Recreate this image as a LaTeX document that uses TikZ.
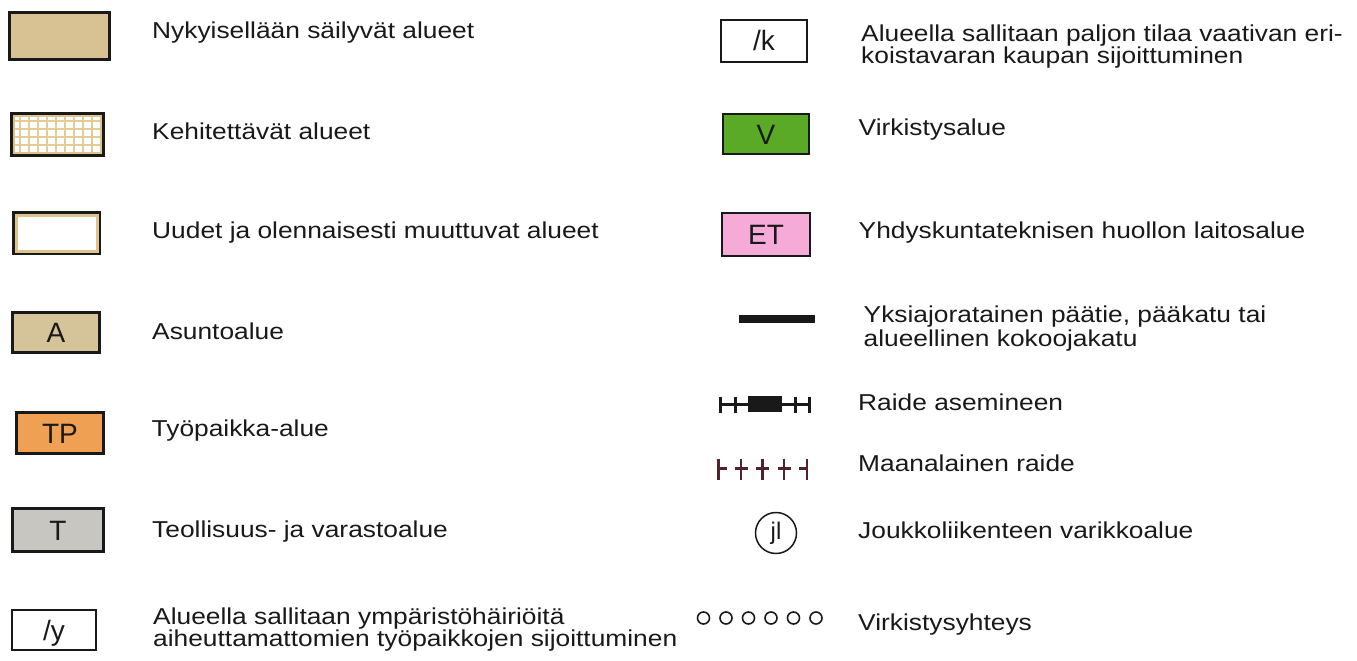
\documentclass[tikz,border=0pt]{standalone}
\usepackage{fontspec}
\setmainfont[FakeStretch=1.145]{Liberation Sans}
\newfontfamily\lblfont{Liberation Sans}
\definecolor{tanA}{RGB}{216,193,146}
\definecolor{tanB}{RGB}{213,196,153}
\definecolor{tanGrid}{RGB}{228,204,150}
\definecolor{tanEdge}{RGB}{222,196,140}
\definecolor{tpOrange}{RGB}{240,160,82}
\definecolor{tGrey}{RGB}{200,198,192}
\definecolor{vGreen}{RGB}{90,170,40}
\definecolor{etPink}{RGB}{246,170,216}
\definecolor{maroon}{RGB}{80,35,45}
\definecolor{ink}{RGB}{25,25,25}
\tikzset{
  txt/.style={anchor=base west, inner sep=0pt, text=ink, font=\fontsize{23}{21}\selectfont},
  box/.style={draw=ink, line width=3pt, inner sep=0pt, text=ink,
    font=\lblfont\fontsize{28}{28}\selectfont, text height=20pt, text depth=0pt},
  thinbox/.style={box, line width=2.2pt},
  railline/.style={ink, line width=3pt},
  metroline/.style={maroon, line width=2.6pt},
}
\begin{document}
\begin{tikzpicture}[x=1pt,y=-1pt]
\useasboundingbox (0,0) rectangle (1357,661);
% ---- left column symbols
\node[box, fill=tanA, minimum width=100pt, minimum height=47pt] (b1) at (59.5,36) {};
\node[box, fill=white, minimum width=92pt, minimum height=42pt] (b2) at (57.5,134.5) {};
\begin{scope}
  \clip (13,115) rectangle (102,154);
  \foreach \gx in {20,29,...,101} \draw[tanGrid, line width=1.1pt] (\gx,115) -- (\gx,154);
  \foreach \gy in {121,129,...,154} \draw[tanGrid, line width=1.1pt] (13,\gy) -- (102,\gy);
\end{scope}
\draw[tanEdge, line width=2pt] (14,116) rectangle (101,153);
\node[box, fill=white, minimum width=86pt, minimum height=41pt] (b3) at (56.5,233) {};
\draw[tanEdge, line width=3pt] (16,215) rectangle (97,251);
\node[box, fill=tanB, minimum width=87pt, minimum height=40pt] (bA) at (56,332.5) {A};
\node[box, fill=tpOrange, minimum width=87pt, minimum height=41pt] (bTP) at (60,433) {TP};
\node[box, fill=tGrey, minimum width=91pt, minimum height=43pt] (bT) at (58,530) {T};
\node[thinbox, fill=white, minimum width=83.8pt, minimum height=39.8pt] (by) at (54,630) {/y};
% ---- left column texts
\node[txt] (t1) at (152,39) {Nykyisellään säilyvät alueet};
\node[txt] (t2) at (152,139) {Kehitettävät alueet};
\node[txt] (t3) at (152,238) {Uudet ja olennaisesti muuttuvat alueet};
\node[txt] (t4) at (152,339) {Asuntoalue};
\node[txt] (t5) at (151.5,436) {Työpaikka-alue};
\node[txt] (t6) at (152,537) {Teollisuus- ja varastoalue};
\node[txt] (t7) at (153,624) {\vtop{\baselineskip=21pt\hbox{Alueella sallitaan ympäristöhäiriöitä}\hbox{aiheuttamattomien työpaikkojen sijoittuminen}}};
% ---- right column symbols
\node[thinbox, fill=white, minimum width=85.8pt, minimum height=41.8pt] (bk) at (764,41) {/k};
\node[thinbox, fill=vGreen, minimum width=85.8pt, minimum height=39.8pt] (bV) at (766,134) {V};
\node[thinbox, fill=etPink, minimum width=87.8pt, minimum height=42.8pt] (bET) at (766,234.5) {ET};
\coordinate (road1) at (739,319);
\coordinate (road2) at (815,319);
\draw[ink, line width=8pt] (road1) -- (road2);
% rail with station
\coordinate (r1) at (719,404);
\coordinate (r2) at (810,404);
\draw[railline] (r1) -- (r2);
\foreach \rx in {720,735,795,809.5} \draw[railline] (\rx,396.5) -- (\rx,412.5);
\fill[ink] (748,396) rectangle (782,412);
% underground rail
\foreach \mx in {741,762.5,784} {
  \draw[metroline] (\mx,458.5) -- (\mx,480);
  \draw[metroline] (\mx-6.5,468.5) -- (\mx+6.5,468.5);
}
\draw[metroline] (718.5,458.5) -- (718.5,480);
\draw[metroline] (718.5,468.5) -- (727,468.5);
\draw[metroline] (807,458.5) -- (807,480);
\draw[metroline] (799,468.5) -- (807,468.5);
% depot
\node[circle, draw=ink, line width=1.5pt, minimum size=41pt, inner sep=0pt, text=ink,
  font=\lblfont\fontsize{24}{24}\selectfont] (jl) at (776,533) {jl};
% recreational link
\foreach \cx in {0,...,5} \draw[ink, line width=1.6pt] (703.5+\cx*22.5,618) circle (6);
% ---- right column texts
\node[txt] (u1) at (861,42) {\vtop{\baselineskip=21.5pt\hbox{Alueella sallitaan paljon tilaa vaativan eri-}\hbox{koistavaran kaupan sijoittuminen}}};
\node[txt] (u2) at (858.5,135) {Virkistysalue};
\node[txt] (u3) at (858.5,238) {Yhdyskuntateknisen huollon laitosalue};
\node[txt] (u4) at (863.5,322) {\vtop{\baselineskip=24.5pt\hbox{Yksiajoratainen päätie, pääkatu tai}\hbox{alueellinen kokoojakatu}}};
\node[txt] (u5) at (858,410) {Raide asemineen};
\node[txt] (u6) at (858,471) {Maanalainen raide};
\node[txt] (u7) at (858,538) {Joukkoliikenteen varikkoalue};
\node[txt] (u8) at (858,630) {Virkistysyhteys};
\end{tikzpicture}
\end{document}
